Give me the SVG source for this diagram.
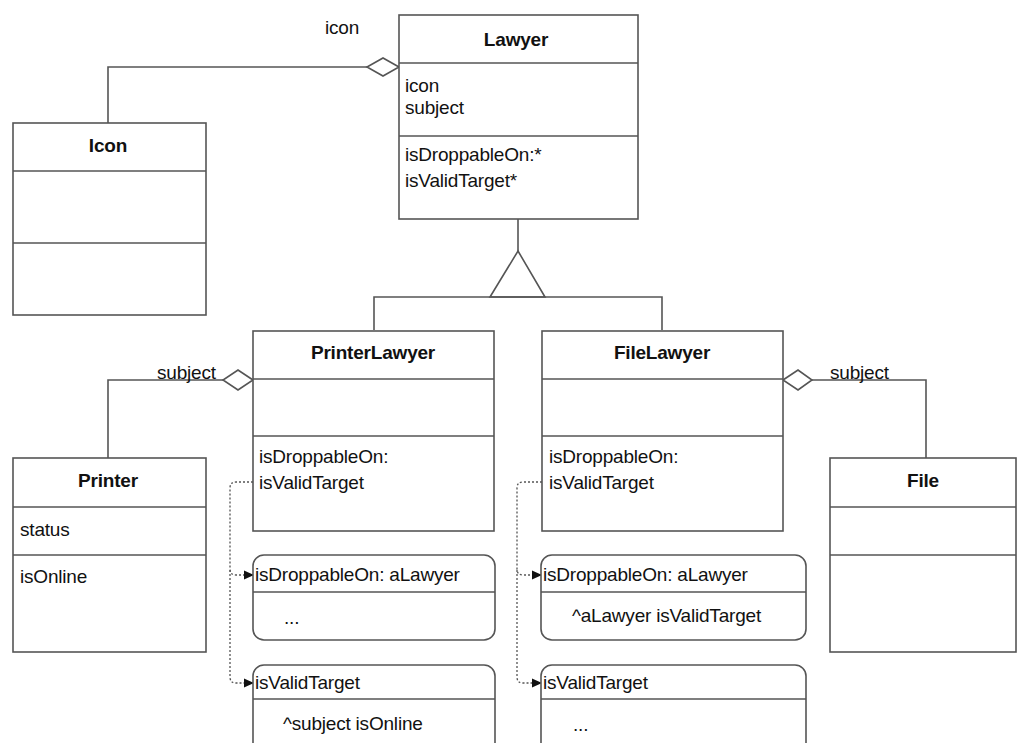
<svg xmlns="http://www.w3.org/2000/svg" width="1017" height="743" viewBox="0 0 1017 743">
<style>
.box{fill:#fff;stroke:#555;stroke-width:1.6}
.div{stroke:#555;stroke-width:1.6;fill:none}
.ln{stroke:#555;stroke-width:1.6;fill:none}
.dash{stroke:#555;stroke-width:1.3;fill:none;stroke-dasharray:2 2}
.t{font-family:"Liberation Sans",Arial,sans-serif;font-size:19px;fill:#111;letter-spacing:-0.2px}
.b{font-weight:bold;text-anchor:middle}
.dia{fill:#fff;stroke:#555;stroke-width:1.6}
</style>
<defs>
<marker id="arr" markerWidth="12" markerHeight="12" refX="10" refY="6" orient="auto" markerUnits="userSpaceOnUse">
<path d="M0,1.5 L10,6 L0,10.5 Z" fill="#111"/>
</marker>
</defs>
<g id="connectors">
<path class="ln" d="M367,67 H108 V123"/>
<path class="ln" d="M518,219 V251"/>
<path class="ln" d="M518,251 L545,297 H490 Z" fill="#fff"/>
<path class="ln" d="M374,330 V297 H662 V330"/>
<path class="ln" d="M223,380 H108 V458"/>
<path class="ln" d="M812,380 H926 V458"/>
<path class="dia" d="M399,67 L383,58 L367,67 L383,76 Z"/>
<path class="dia" d="M253,380 L238,370 L223,380 L238,390 Z"/>
<path class="dia" d="M783,380 L798,370 L812,380 L798,390 Z"/>
<path class="dash" d="M253,482 H236 Q230,482 230,488 V569 Q230,575 236,575 H254" marker-end="url(#arr)"/>
<path class="dash" d="M230,570 V677 Q230,683 236,683 H254" marker-end="url(#arr)"/>
<path class="dash" d="M542,482 H523 Q517,482 517,488 V569 Q517,575 523,575 H542" marker-end="url(#arr)"/>
<path class="dash" d="M517,570 V677 Q517,683 523,683 H542" marker-end="url(#arr)"/>
<text class="t" x="325" y="34">icon</text>
<text class="t" x="157" y="379">subject</text>
<text class="t" x="830" y="379">subject</text>
</g>
<g id="Lawyer">
<rect class="box" x="399" y="15" width="239" height="204"/>
<line class="div" x1="399" y1="63" x2="638" y2="63"/>
<line class="div" x1="399" y1="136" x2="638" y2="136"/>
<text class="t b" x="516" y="46">Lawyer</text>
<text class="t" x="405" y="92">icon</text>
<text class="t" x="405" y="114">subject</text>
<text class="t" x="405" y="161">isDroppableOn:*</text>
<text class="t" x="405" y="187">isValidTarget*</text>
</g>
<g id="Icon">
<rect class="box" x="13" y="123" width="193" height="192"/>
<line class="div" x1="13" y1="171" x2="206" y2="171"/>
<line class="div" x1="13" y1="243" x2="206" y2="243"/>
<text class="t b" x="108" y="152">Icon</text>
</g>
<g id="PrinterLawyer">
<rect class="box" x="253" y="331" width="241" height="200"/>
<line class="div" x1="253" y1="379" x2="494" y2="379"/>
<line class="div" x1="253" y1="436" x2="494" y2="436"/>
<text class="t b" x="373" y="359">PrinterLawyer</text>
<text class="t" x="259" y="463">isDroppableOn:</text>
<text class="t" x="259" y="489">isValidTarget</text>
</g>
<g id="FileLawyer">
<rect class="box" x="542" y="331" width="241" height="200"/>
<line class="div" x1="542" y1="379" x2="783" y2="379"/>
<line class="div" x1="542" y1="436" x2="783" y2="436"/>
<text class="t b" x="662" y="359">FileLawyer</text>
<text class="t" x="549" y="463">isDroppableOn:</text>
<text class="t" x="549" y="489">isValidTarget</text>
</g>
<g id="Printer">
<rect class="box" x="13" y="458" width="193" height="194"/>
<line class="div" x1="13" y1="507" x2="206" y2="507"/>
<line class="div" x1="13" y1="555" x2="206" y2="555"/>
<text class="t b" x="108" y="487">Printer</text>
<text class="t" x="20" y="536">status</text>
<text class="t" x="20" y="583">isOnline</text>
</g>
<g id="File">
<rect class="box" x="830" y="458" width="186" height="194"/>
<line class="div" x1="830" y1="507" x2="1016" y2="507"/>
<line class="div" x1="830" y1="555" x2="1016" y2="555"/>
<text class="t b" x="923" y="487">File</text>
</g>
<g id="PL_isDroppableOn">
<rect class="box" x="253" y="555" width="242" height="85" rx="11"/>
<line class="div" x1="253" y1="592" x2="495" y2="592"/>
<text class="t" x="255" y="581">isDroppableOn: aLawyer</text>
<text class="t" x="284" y="624">...</text>
</g>
<g id="PL_isValidTarget">
<rect class="box" x="253" y="665" width="242" height="95" rx="11"/>
<line class="div" x1="253" y1="699" x2="495" y2="699"/>
<text class="t" x="255" y="689">isValidTarget</text>
<text class="t" x="283" y="730">^subject isOnline</text>
</g>
<g id="FL_isDroppableOn">
<rect class="box" x="541" y="555" width="265" height="85" rx="11"/>
<line class="div" x1="541" y1="592" x2="806" y2="592"/>
<text class="t" x="543" y="581">isDroppableOn: aLawyer</text>
<text class="t" x="572" y="622">^aLawyer isValidTarget</text>
</g>
<g id="FL_isValidTarget">
<rect class="box" x="541" y="665" width="265" height="95" rx="11"/>
<line class="div" x1="541" y1="699" x2="806" y2="699"/>
<text class="t" x="543" y="689">isValidTarget</text>
<text class="t" x="573" y="731">...</text>
</g>
</svg>
